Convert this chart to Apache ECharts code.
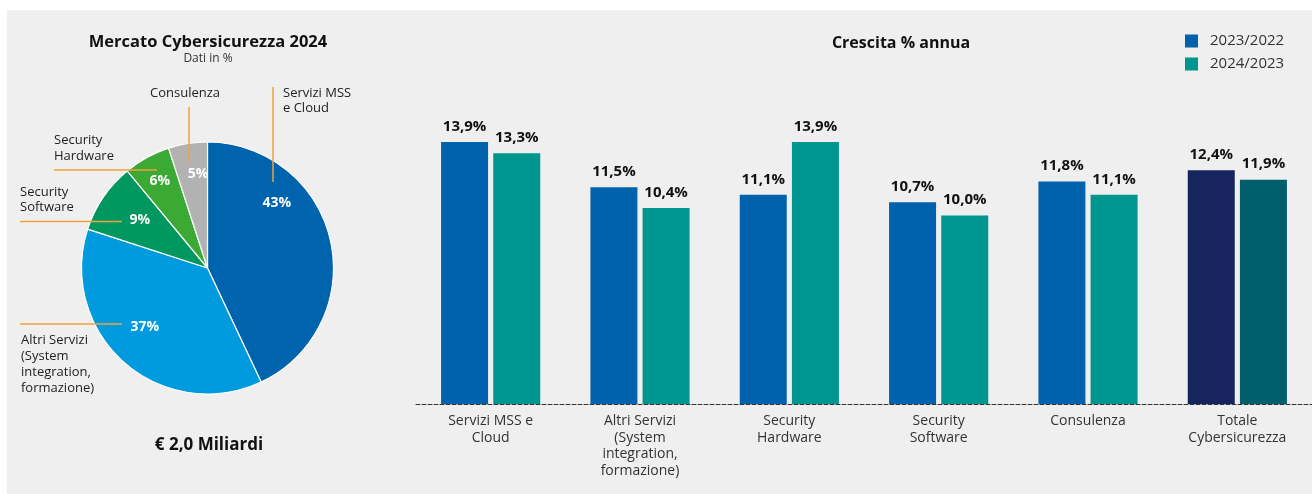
<!DOCTYPE html>
<html>
<head>
<meta charset="utf-8">
<script src="https://cdn.jsdelivr.net/npm/echarts@6/dist/echarts.min.js"></script>
<style>
html,body{margin:0;padding:0;background:#fff;}
#c{width:1312px;height:494px;}
</style>
</head>
<body>
<div id="c"></div>
<script>
// ---- data ----
const pieNames = ['Servizi MSS e Cloud', 'Altri Servizi', 'Security Software', 'Security Hardware', 'Consulenza'];
const pieValues = [43, 37, 9, 6, 5];
const categories = ['Servizi MSS e\nCloud', 'Altri Servizi\n(System\nintegration,\nformazione)', 'Security\nHardware', 'Security\nSoftware', 'Consulenza', 'Totale\nCybersicurezza'];
const seriesNames = ['2023/2022', '2024/2023'];
const growth2023 = [13.9, 11.5, 11.1, 10.7, 11.8, 12.4];
const growth2024 = [13.3, 10.4, 13.9, 10.0, 11.1, 11.9];

// ---- styles ----
const FONT = '"Open Sans", "Noto Sans", sans-serif';
const pieColors = ['#0063ad', '#009bdf', '#00985f', '#3aaa35', '#b2b2b2'];
const pieLabelOffsets = [[5, -51], [-19, 10], [-13, -11], [-16, -29], [1, -29]];
const barColors = ['#0061ad', '#00968f'];
const totalColors = ['#17255f', '#005f6b'];
const ORANGE = '#f2a23c';
const TXT = '#222';

function fmt(v) { return v.toFixed(1).replace('.', ',') + '%'; }

const pieData = pieNames.map((n, i) => ({
  name: n, value: pieValues[i],
  itemStyle: { color: pieColors[i] },
  label: { offset: pieLabelOffsets[i] }
}));

function barData(vals, si) {
  return vals.map((v, i) => i === vals.length - 1 ? { value: v, itemStyle: { color: totalColors[si] } } : v);
}

const chart = echarts.init(document.getElementById('c'), null, { renderer: 'canvas' });

function txt(x, y, text, opts) {
  return {
    type: 'text', x: x, y: y, z: 10,
    style: Object.assign({ text: text, fill: TXT, font: '13px ' + FONT, textVerticalAlign: 'middle' }, opts || {})
  };
}
function line(x1, y1, x2, y2) {
  return { type: 'line', z: 10, shape: { x1, y1, x2, y2 }, style: { stroke: ORANGE, lineWidth: 1.5 } };
}

chart.setOption({
  backgroundColor: '#ffffff',
  animation: false,
  textStyle: { fontFamily: FONT },
  graphic: [
    { type: 'rect', z: -10, shape: { x: 7, y: 10, width: 1305, height: 484 }, style: { fill: '#efefef' } },
    txt(208, 42, 'Mercato Cybersicurezza 2024', { font: 'bold 16.5px ' + FONT, textAlign: 'center', fill: '#111' }),
    txt(208, 59, 'Dati in %', { font: '12px ' + FONT, textAlign: 'center', fill: '#333' }),
    txt(209, 445, '€ 2,0 Miliardi', { font: 'bold 17px ' + FONT, textAlign: 'center', fill: '#111' }),
    txt(901, 43, 'Crescita % annua', { font: 'bold 16px ' + FONT, textAlign: 'center', fill: '#111' }),
    // pie annotations
    txt(150, 93, 'Consulenza'),
    txt(283, 93, 'Servizi MSS'),
    txt(283, 108.5, 'e Cloud'),
    txt(54, 140, 'Security'),
    txt(54, 156, 'Hardware'),
    txt(20, 192, 'Security'),
    txt(20, 207.5, 'Software'),
    txt(21, 340, 'Altri Servizi'),
    txt(21, 356, '(System'),
    txt(21, 372, 'integration,'),
    txt(21, 388, 'formazione)'),
    line(273, 87, 273, 182),
    line(189, 107, 189, 162),
    line(54, 170, 157, 170),
    line(20, 221.5, 122, 221.5),
    line(20, 324, 122, 324)
  ],
  legend: {
    orient: 'vertical',
    left: 1180, top: 27,
    icon: 'rect', itemWidth: 13, itemHeight: 13, itemGap: 5,
    data: seriesNames,
    textStyle: { fontSize: 15, color: '#333', fontFamily: FONT, lineHeight: 18, padding: [0, 0, 0, 7] }
  },
  grid: { left: 416, right: 0, top: 27, bottom: 90 },
  xAxis: {
    type: 'category', data: categories,
    axisLine: { lineStyle: { color: '#333', type: 'dashed', width: 1 } },
    axisTick: { show: false },
    axisLabel: { interval: 0, color: '#333', fontSize: 14, lineHeight: 16.5, margin: 9, fontFamily: FONT }
  },
  yAxis: { type: 'value', min: 0, max: 20, show: false, splitLine: { show: false } },
  series: [
    {
      name: seriesNames[0], type: 'bar', data: barData(growth2023, 0),
      barWidth: 47, barGap: '11%',
      itemStyle: { color: barColors[0] },
      label: { show: true, position: 'top', distance: 8, formatter: p => fmt(p.value), color: '#111', fontWeight: 'bold', fontSize: 15, fontFamily: FONT }
    },
    {
      name: seriesNames[1], type: 'bar', data: barData(growth2024, 1),
      barWidth: 47, barGap: '11%',
      itemStyle: { color: barColors[1] },
      label: { show: true, position: 'top', distance: 8, formatter: p => fmt(p.value), color: '#111', fontWeight: 'bold', fontSize: 15, fontFamily: FONT }
    },
    {
      name: 'Mercato', type: 'pie', center: [207.5, 268], radius: 126,
      startAngle: 90, clockwise: true,
      itemStyle: { borderColor: '#ffffff', borderWidth: 1.2 },
      label: { show: true, position: 'inside', formatter: p => p.value + '%', color: '#fff', fontWeight: 'bold', fontSize: 14, fontFamily: FONT },
      labelLine: { show: false },
      emphasis: { disabled: true },
      data: pieData
    }
  ]
});
</script>
</body>
</html>
